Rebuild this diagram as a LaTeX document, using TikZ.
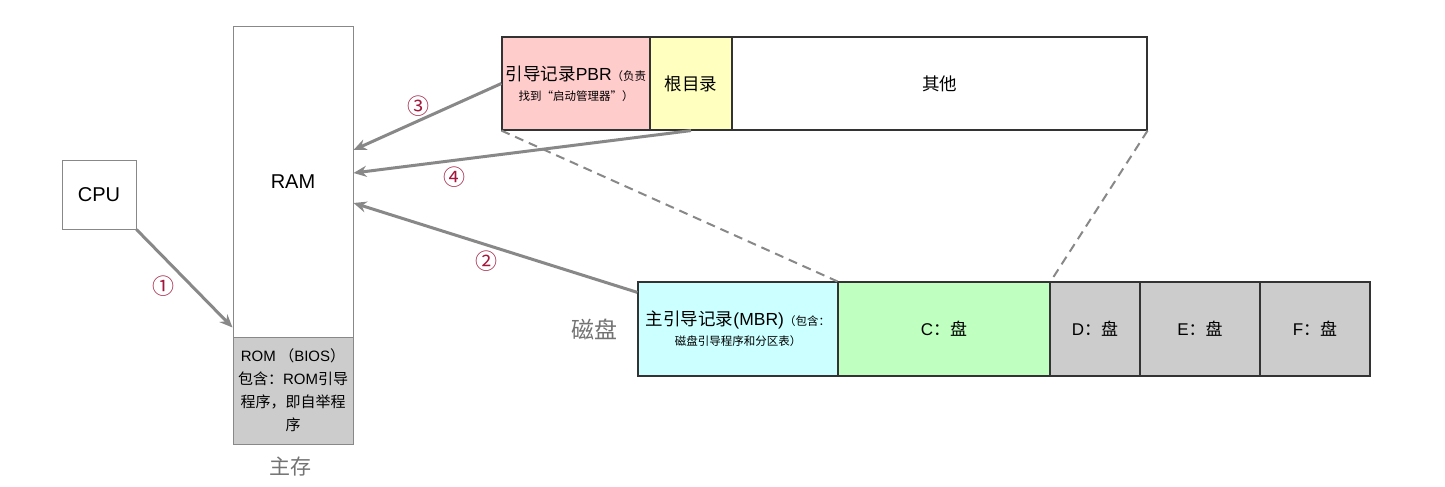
\documentclass[tikz,border=0pt]{standalone}
\usepackage{fontspec}
\setmainfont{Noto Sans CJK SC}
\newfontfamily\lat{Liberation Sans}
\usepackage{tikz}
\usetikzlibrary{arrows.meta,positioning,shapes}
\definecolor{linegray}{HTML}{888888}
\definecolor{numred}{HTML}{A3173C}
\definecolor{pbrpink}{HTML}{FFCCCC}
\definecolor{rootyellow}{HTML}{FFFFC0}
\definecolor{mbrcyan}{HTML}{CCFFFF}
\definecolor{cgreen}{HTML}{BFFFBF}
\definecolor{diskgray}{HTML}{CCCCCC}
\newcommand{\hugetxt}{\fontsize{20}{24}\selectfont}
\newcommand{\bigtxt}{\fontsize{17.5}{24}\selectfont}
\newcommand{\midtxt}{\fontsize{15}{23}\selectfont}
\newcommand{\drivetxt}{\fontsize{17}{23}\selectfont}
\newcommand{\smalltxt}{\fontsize{11.5}{20}\selectfont}
\tikzstyle{membox}=[rectangle,draw=linegray,line width=1pt,inner sep=0pt,align=center]
\tikzstyle{diskbox}=[rectangle,draw=black!80,line width=1.2pt,inner sep=0pt,align=center,minimum height=94pt]
\tikzstyle{num}=[text=numred,font=\fontsize{22}{22}\selectfont,inner sep=1pt]
\tikzstyle{grplabel}=[text=black!55,font=\fontsize{21}{21}\selectfont]

\begin{document}
\begin{tikzpicture}[x=1pt,y=-1pt]
\useasboundingbox (0,0) rectangle (1445,487);
\node[membox,minimum width=74pt,minimum height=69pt,font=\hugetxt\lat] (cpu) at (99,194.5) {CPU};
\node[membox,minimum width=120pt,minimum height=310pt,font=\hugetxt\lat] (ram) at (293,182) {RAM};
\node[membox,fill=diskgray,minimum width=120pt,minimum height=107pt,font=\midtxt] (rom) at (293,390.5) {{\lat ROM} （{\lat BIOS}）\\包含：{\lat ROM}引导\\程序，即自举程\\序};
\node[grplabel] (mem) at (290,467) {主存};
\node[diskbox,fill=pbrpink,minimum width=148pt,minimum height=93pt,font=\bigtxt] (pbr) at (576,83.5) {引导记录{\lat PBR}{\smalltxt （负责}\\[-4pt]{\smalltxt 找到“启动管理器”）}};
\node[diskbox,fill=rootyellow,minimum width=82pt,minimum height=93pt,font=\bigtxt] (root) at (691,83.5) {根目录};
\node[diskbox,minimum width=415pt,minimum height=93pt,font=\bigtxt] (other) at (939.5,83.5) {其他};
\node[grplabel,font=\fontsize{23}{23}\selectfont] (disk) at (594,329) {磁盘};
\node[diskbox,fill=mbrcyan,minimum width=200pt,font=\bigtxt] (mbr) at (738,329) {主引导记录{\lat (MBR)}{\smalltxt （包含：}\\[-4pt]{\smalltxt 磁盘引导程序和分区表）}};
\node[diskbox,fill=cgreen,minimum width=212pt,font=\drivetxt] (c) at (944,329) {{\lat C}：盘};
\node[diskbox,fill=diskgray,minimum width=90pt,font=\drivetxt] (d) at (1095,329) {{\lat D}：盘};
\node[diskbox,fill=diskgray,minimum width=120pt,font=\drivetxt] (e) at (1200,329) {{\lat E}：盘};
\node[diskbox,fill=diskgray,minimum width=110pt,font=\drivetxt] (f) at (1315,329) {{\lat F}：盘};
\path[dashed,color=linegray,line width=2pt,dash pattern=on 9pt off 6pt]
(pbr.south west) edge (c.north west)
(other.south east) edge (c.north east);
\path[->,>={Stealth[length=13pt,width=11pt]},color=linegray,line width=3pt]
(cpu.south east) edge node [num,pos=0.58,left=15pt] {①} ([yshift=10pt]ram.south west)
([yshift=-11pt]mbr.north west) edge node [num,pos=0.53,below=3pt] {②} ([yshift=-21pt]ram.east)
(pbr.west) edge node [num,pos=0.56,above=2pt] {③} ([yshift=32pt]ram.east)
(root.south) edge node [num,pos=0.7,below=4pt] {④} ([yshift=9pt]ram.east);
\end{tikzpicture}
\end{document}
